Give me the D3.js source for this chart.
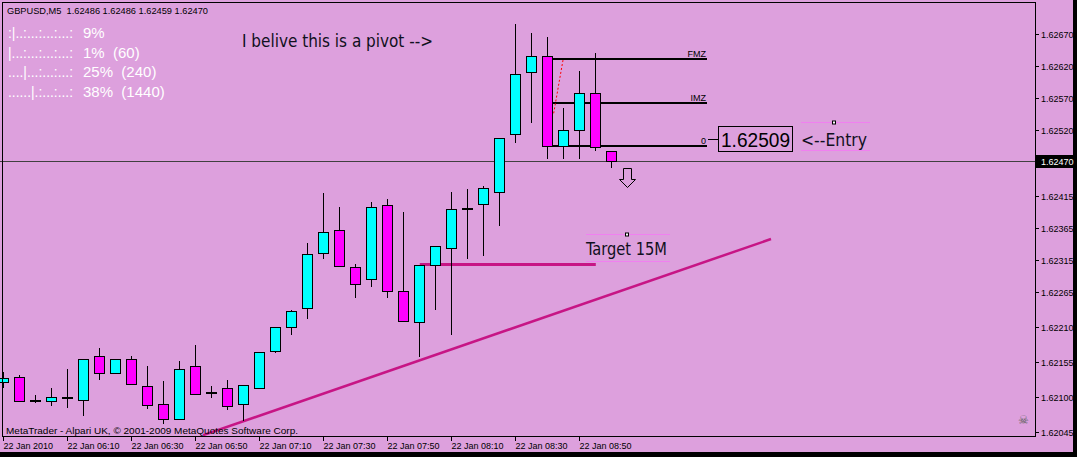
<!DOCTYPE html>
<html>
<head>
<meta charset="utf-8">
<script src="https://cdn.jsdelivr.net/npm/d3@7"></script>
<style>
body { margin: 0; background: #000; }
svg { display: block; }
text { white-space: pre; }
</style>
</head>
<body>
<svg width="1077" height="457"></svg>
<script>
// 5 minute bars, GBPUSD 22 Jan 2010 from 05:50
var opens  = [1.62124,1.62131,1.62095,1.62094,1.62100,1.62096,1.62164,1.62137,1.62159,1.62117,
              1.62089,1.62066,1.62148,1.62108,1.62114,1.62089,1.62114,1.62172,1.62210,1.62239,
              1.62326,1.62362,1.62304,1.62286,1.62401,1.62266,1.62217,1.62308,1.62334,1.62397,
              1.62403,1.62422,1.62513,1.62611,1.62635,1.62494,1.62519,1.62578,1.62486];
var highs  = [1.62140,1.62135,1.62103,1.62114,1.62144,1.62159,1.62177,1.62159,1.62164,1.62149,
              1.62125,1.62157,1.62182,1.62117,1.62127,1.62119,1.62170,1.62210,1.62237,1.62342,
              1.62420,1.62398,1.62309,1.62406,1.62411,1.62390,1.62307,1.62337,1.62422,1.62427,
              1.62431,1.62506,1.62686,1.62672,1.62665,1.62554,1.62612,1.62640,1.62486];
var lows   = [1.62114,1.62094,1.62091,1.62086,1.62083,1.62070,1.62126,1.62137,1.62121,1.62081,
              1.62058,1.62066,1.62104,1.62099,1.62080,1.62062,1.62114,1.62169,1.62198,1.62223,
              1.62317,1.62305,1.62256,1.62273,1.62256,1.62217,1.62163,1.62236,1.62197,1.62317,
              1.62322,1.62369,1.62499,1.62531,1.62474,1.62474,1.62473,1.62487,1.62459];
var closes = [1.62130,1.62094,1.62095,1.62100,1.62100,1.62159,1.62137,1.62159,1.62121,1.62088,
              1.62066,1.62144,1.62104,1.62108,1.62086,1.62119,1.62170,1.62210,1.62235,1.62324,
              1.62359,1.62305,1.62277,1.62398,1.62266,1.62219,1.62307,1.62337,1.62395,1.62397,
              1.62428,1.62506,1.62607,1.62635,1.62494,1.62520,1.62577,1.62492,1.62470];

var timeTickBars = [0, 4, 8, 12, 16, 20, 24, 28, 32, 36];
var timeTickLabels = ["22 Jan 2010","22 Jan 06:10","22 Jan 06:30","22 Jan 06:50","22 Jan 07:10",
                      "22 Jan 07:30","22 Jan 07:50","22 Jan 08:10","22 Jan 08:30","22 Jan 08:50"];
var priceTicks = [1.62670,1.62620,1.62570,1.62520,1.62415,1.62365,1.62315,1.62265,1.62210,1.62155,1.62100,1.62045];
var lastPrice = 1.62470;

var fiboNames  = ["FMZ", "IMZ", "0"];
var fiboPrices = [1.62631, 1.62562, 1.62494];
var fiboBars   = [34, 44];
var entryPrice = 1.62509;
var targetPrice = 1.62308;
var targetBars  = [26.05, 37.05];
var trendBars   = [12.5, 48];
var trendPrices = [1.62040, 1.62348];
var dashBars    = [35, 34.4];
var dashPrices  = [1.62629, 1.62543];

var statRows = [":|..:...:...:...:", "|...:...:...:...:", "....|...:...:...:", "......|.:...:...:"];
var statText = ["9%", "1%  (60)", "25%  (240)", "38%  (1440)"];

var svg = d3.select("svg");
var width = +svg.attr("width"), height = +svg.attr("height");

var x = d3.scaleLinear().domain([0, 1]).range([3, 19]);
var y = d3.scaleLinear().domain([1.62045, 1.62670]).range([432, 34]);

var axisFont = "'Liberation Sans',Arial,sans-serif";
var handFont = "'DejaVu Sans Condensed','DejaVu Sans',sans-serif";

// background
svg.append("rect").attr("width", width).attr("height", height).style("fill", "#000");
svg.append("rect").attr("width", 1073).attr("height", 452).style("fill", "#dda0dd");

var plot = svg.append("g");
plot.append("clipPath").attr("id", "clip").append("rect")
  .attr("x", 0).attr("y", 3).attr("width", 1035).attr("height", 433);
var g = plot.append("g").attr("clip-path", "url(#clip)");

// current price line
g.append("line").attr("x1", 0).attr("x2", 1035)
  .attr("y1", Math.round(y(lastPrice)) + 0.5).attr("y2", Math.round(y(lastPrice)) + 0.5)
  .style("stroke", "#404040").style("stroke-width", 1);

// trend line
g.append("line")
  .attr("x1", x(trendBars[0])).attr("y1", y(trendPrices[0]))
  .attr("x2", x(trendBars[1])).attr("y2", y(trendPrices[1]))
  .style("stroke", "#c71585").style("stroke-width", 2.5);

// target line
g.append("line")
  .attr("x1", x(targetBars[0])).attr("x2", x(targetBars[1]))
  .attr("y1", y(targetPrice)).attr("y2", y(targetPrice))
  .style("stroke", "#c71585").style("stroke-width", 3);

// fibo lines
fiboPrices.forEach(function(p, i) {
  var yy = Math.round(y(p));
  g.append("line").attr("x1", x(fiboBars[0])).attr("x2", x(fiboBars[1]))
    .attr("y1", yy).attr("y2", yy)
    .style("stroke", "#000").style("stroke-width", 2);
  g.append("text").attr("x", x(fiboBars[1]) - 1).attr("y", yy - 2)
    .attr("text-anchor", "end").text(fiboNames[i])
    .style("font-family", axisFont).style("font-size", "9px").style("fill", "#000");
});

// candles
var bars = d3.range(opens.length);
var candle = g.selectAll(".candle").data(bars).enter().append("g").attr("class", "candle");
candle.append("line")
  .attr("x1", function(i) { return x(i) + 0.5; })
  .attr("x2", function(i) { return x(i) + 0.5; })
  .attr("y1", function(i) { return Math.round(y(highs[i])); })
  .attr("y2", function(i) { return Math.round(y(lows[i])); })
  .style("stroke", "#000").style("stroke-width", 1);
candle.append("rect")
  .attr("x", function(i) { return x(i) - 4.5; })
  .attr("width", 10)
  .attr("y", function(i) { return Math.round(y(Math.max(opens[i], closes[i]))) + 0.5; })
  .attr("height", function(i) {
    return Math.max(1, Math.round(y(Math.min(opens[i], closes[i]))) - Math.round(y(Math.max(opens[i], closes[i]))));
  })
  .style("fill", function(i) { return closes[i] > opens[i] ? "#00ffff" : closes[i] < opens[i] ? "#ff00ff" : "#000"; })
  .style("stroke", "#000").style("stroke-width", 1);

// red dotted baseline of fibo
g.append("line")
  .attr("x1", x(dashBars[0])).attr("y1", y(dashPrices[0]))
  .attr("x2", x(dashBars[1])).attr("y2", y(dashPrices[1]))
  .style("stroke", "#ff0000").style("stroke-width", 1).style("stroke-dasharray", "2,2");

// entry price label
var ey = y(entryPrice) + 2;
g.append("line").attr("x1", x(fiboBars[1]) + 1).attr("x2", x(fiboBars[1]) + 11)
  .attr("y1", Math.round(ey) + 0.5).attr("y2", Math.round(ey) + 0.5).style("stroke", "#000");
g.append("rect").attr("x", x(fiboBars[1]) + 11.5).attr("y", Math.round(ey) - 12.5)
  .attr("width", 74).attr("height", 25).style("fill", "none").style("stroke", "#000");
g.append("text").attr("x", x(fiboBars[1]) + 14).attr("y", Math.round(ey) + 8)
  .attr("textLength", 69).attr("lengthAdjust", "spacingAndGlyphs")
  .text(d3.format(".5f")(entryPrice))
  .style("font-family", axisFont).style("font-size", "20px").style("fill", "#000");

// down arrow under last bar
var ax = x(opens.length - 1) + 16.5, ayTop = Math.round(y(lows[opens.length - 1])) + 0.5;
g.append("path")
  .attr("d", "M" + (ax - 4) + "," + ayTop + "h8v11h4l-8,8l-8,-8h4z")
  .style("fill", "none").style("stroke", "#000").style("stroke-width", 1);

// handwritten notes
function note(tx, ty, str, len, boxTop, boxBottom, anchorX) {
  if (boxTop != null) {
    g.append("line").attr("x1", tx).attr("x2", tx + len + 3).attr("y1", boxTop).attr("y2", boxTop)
      .style("stroke", "#f080f0").style("stroke-width", 1);
    g.append("line").attr("x1", tx).attr("x2", tx + len + 3).attr("y1", boxBottom).attr("y2", boxBottom)
      .style("stroke", "#f080f0").style("stroke-width", 1);
    g.append("rect").attr("x", anchorX - 1.5).attr("y", boxTop - 1.5).attr("width", 3).attr("height", 3)
      .style("fill", "#fff").style("stroke", "#000").style("stroke-width", 1);
  }
  g.append("text").attr("x", tx).attr("y", ty).text(str)
    .attr("textLength", len).attr("lengthAdjust", "spacingAndGlyphs")
    .style("font-family", handFont).style("font-size", "18px").style("fill", "#101020");
}
note(242, 47, "I belive this is a pivot -->", 191);
note(586, 255, "Target 15M", 81, 234.5, 261.5, 627);
note(801, 146, "<--Entry", 66, 122.5, 150.5, 834);

// header
svg.append("text").attr("x", 7).attr("y", 14)
  .text("GBPUSD,M5  " + [opens[38], highs[38], lows[38], closes[38]].map(d3.format(".5f")).join(" "))
  .attr("textLength", 201).attr("lengthAdjust", "spacingAndGlyphs")
  .style("font-family", axisFont).style("font-size", "9.5px").style("fill", "#000");

// stats rows
statRows.forEach(function(s, i) {
  var by = 38 + i * 19.5;
  svg.append("text").attr("x", 8).attr("y", by).text(s)
    .attr("textLength", 65).attr("lengthAdjust", "spacingAndGlyphs")
    .style("font-family", "'Liberation Sans',sans-serif").style("font-size", "14px").style("fill", "#fff");
  svg.append("text").attr("x", 83).attr("y", by).text(statText[i])
    .style("font-family", "'Liberation Sans',sans-serif").style("font-size", "15px").style("fill", "#fff");
});

// copyright
svg.append("text").attr("x", 6).attr("y", 434)
  .text("MetaTrader - Alpari UK, \u00a9 2001-2009 MetaQuotes Software Corp.")
  .attr("textLength", 292).attr("lengthAdjust", "spacingAndGlyphs")
  .style("font-family", axisFont).style("font-size", "9.5px").style("fill", "#000");

// skull
svg.append("text").attr("x", 1018).attr("y", 424).text("\u2620")
  .style("font-family", "'DejaVu Sans',sans-serif").style("font-size", "12px").style("fill", "#606060");

// frame
svg.append("rect").attr("x", 2.5).attr("y", 2.5).attr("width", 1033).attr("height", 434)
  .style("fill", "none").style("stroke", "#000").style("stroke-width", 1);

// price axis
priceTicks.forEach(function(p) {
  var yy = Math.round(y(p)) + 0.5;
  svg.append("line").attr("x1", 1036).attr("x2", 1039).attr("y1", yy).attr("y2", yy).style("stroke", "#000");
  svg.append("text").attr("x", 1041).attr("y", yy + 3.5).text(d3.format(".5f")(p))
    .style("font-family", axisFont).style("font-size", "9px").style("fill", "#000");
});
var ly = Math.round(y(lastPrice));
svg.append("rect").attr("x", 1036).attr("y", ly - 6).attr("width", 37).attr("height", 13).style("fill", "#000");
svg.append("text").attr("x", 1041).attr("y", ly + 4).text(d3.format(".5f")(lastPrice))
  .style("font-family", axisFont).style("font-size", "9px").style("fill", "#fff");

// time axis
timeTickBars.forEach(function(b, i) {
  var xx = Math.round(x(b)) + 0.5;
  svg.append("line").attr("x1", xx).attr("x2", xx).attr("y1", 437).attr("y2", 441).style("stroke", "#000");
  svg.append("text").attr("x", xx).attr("y", 449).text(timeTickLabels[i])
    .style("font-family", axisFont).style("font-size", "9px").style("fill", "#000");
});
</script>
</body>
</html>
